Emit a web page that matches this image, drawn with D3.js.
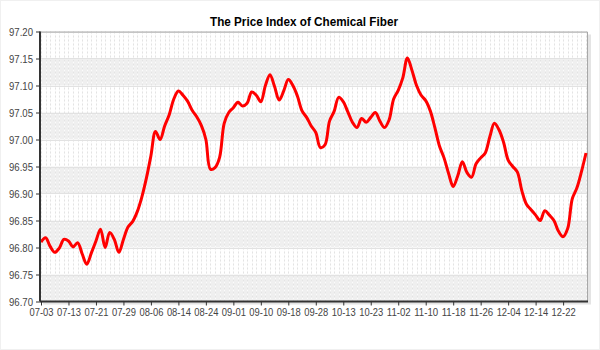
<!DOCTYPE html>
<html>
<head>
<meta charset="utf-8">
<script src="https://cdn.jsdelivr.net/npm/d3@7"></script>
<style>
  body { margin: 0; background: #fff; }
  svg { display: block; font-family: "Liberation Sans", Arial, sans-serif; }
</style>
</head>
<body>
<div id="chart"></div>
<script>
// ---- DATA ----
let chartTitle = "The Price Index of Chemical Fiber";

let tickLabels = ["07-03", "07-13", "07-21", "07-29", "08-06", "08-14", "08-24", "09-01", "09-10", "09-18",
                  "09-28", "10-13", "10-23", "11-02", "11-10", "11-18", "11-26", "12-04", "12-14", "12-22"];

let yTicks = [96.70, 96.75, 96.80, 96.85, 96.90, 96.95, 97.00, 97.05, 97.10, 97.15, 97.20];

let priceIndex = [
    96.810, 96.818, 96.802, 96.791, 96.799, 96.815, 96.812, 96.801, 96.809, 96.788,
    96.769, 96.790, 96.812, 96.834, 96.800, 96.828, 96.815, 96.791, 96.815, 96.838,
    96.848, 96.866, 96.893, 96.928, 96.970, 97.015, 97.000, 97.025, 97.046, 97.075,
    97.090, 97.082, 97.071, 97.054, 97.042, 97.026, 97.000, 96.945, 96.948, 96.967,
    97.030, 97.050, 97.059, 97.069, 97.062, 97.067, 97.088, 97.082, 97.070, 97.100,
    97.120, 97.098, 97.073, 97.090, 97.111, 97.100, 97.080, 97.053, 97.041, 97.025,
    97.013, 96.985, 96.990, 97.034, 97.052, 97.078, 97.070, 97.051, 97.032, 97.022,
    97.039, 97.032, 97.041, 97.050, 97.034, 97.022, 97.036, 97.075, 97.091, 97.114,
    97.151, 97.128, 97.100, 97.082, 97.072, 97.053, 97.022, 96.988, 96.966, 96.937,
    96.913, 96.933, 96.959, 96.939, 96.930, 96.955, 96.966, 96.975, 97.005, 97.030,
    97.018, 96.995, 96.962, 96.950, 96.940, 96.905, 96.880, 96.870, 96.860, 96.850,
    96.868, 96.860, 96.850, 96.830, 96.820, 96.835, 96.890, 96.910, 96.940, 96.975
];

let tickEvery = 6;

// ---- CHART AREA ----
let W = 600, H = 350;
let plot = {left: 40, right: 588, top: 31.5, bottom: 301.5};

let svg = d3.select("#chart").append("svg")
    .attr("width", W)
    .attr("height", H);

// outer border
svg.append("rect")
    .attr("x", 0.5).attr("y", 0.5)
    .attr("width", W - 1).attr("height", H - 1)
    .attr("fill", "#fff")
    .attr("stroke", "#f0f0f0");

// ---- SCALES ----
let x = d3.scaleLinear()
    .domain([0, priceIndex.length - 1])
    .range([41, 586]);

let y = d3.scaleLinear()
    .domain([96.70, 97.20])
    .range([plot.bottom, plot.top]);

// shadow of plot frame
svg.append("rect")
    .attr("x", plot.left + 3).attr("y", plot.top + 3)
    .attr("width", plot.right - plot.left).attr("height", plot.bottom - plot.top)
    .attr("fill", "#e4e4e4");

svg.append("rect")
    .attr("x", plot.left).attr("y", plot.top)
    .attr("width", plot.right - plot.left).attr("height", plot.bottom - plot.top)
    .attr("fill", "#fff");

// alternating bands
let bands = yTicks.slice(0, -1).filter((d, i) => i % 2 === 0);
svg.append("g").selectAll("rect")
    .data(bands)
    .enter().append("rect")
    .attr("x", plot.left)
    .attr("y", d => y(d + 0.05))
    .attr("width", plot.right - plot.left)
    .attr("height", d => y(d) - y(d + 0.05))
    .attr("fill", "#efefef");

// vertical dashed grid
let vGrid = svg.append("g");
vGrid.selectAll(".vw")
    .data(priceIndex)
    .enter().append("line")
    .attr("class", "vw")
    .attr("x1", (d, i) => Math.round(x(i)) + 0.5)
    .attr("x2", (d, i) => Math.round(x(i)) + 0.5)
    .attr("y1", plot.top).attr("y2", plot.bottom)
    .attr("stroke", "#fcfcfc");
vGrid.selectAll(".vd")
    .data(priceIndex)
    .enter().append("line")
    .attr("class", "vd")
    .attr("x1", (d, i) => Math.round(x(i)) + 0.5)
    .attr("x2", (d, i) => Math.round(x(i)) + 0.5)
    .attr("y1", plot.top).attr("y2", plot.bottom)
    .attr("stroke", "#e3e3e3")
    .attr("stroke-dasharray", "2,2");

// horizontal grid lines
svg.append("g").selectAll("line")
    .data(yTicks)
    .enter().append("line")
    .attr("x1", plot.left).attr("x2", plot.right)
    .attr("y1", d => Math.round(y(d)) + 0.5)
    .attr("y2", d => Math.round(y(d)) + 0.5)
    .attr("stroke", "#e2e2e2");

// frame top/right
svg.append("path")
    .attr("d", `M${plot.left},${plot.top + 0.5}H${plot.right - 0.5}V${plot.bottom}`)
    .attr("fill", "none")
    .attr("stroke", "#a8a8a8");

// ---- LINE ----
let line = d3.line()
    .x((d, i) => x(i))
    .y(d => y(d))
    .curve(d3.curveCatmullRom.alpha(0.5));

svg.append("path")
    .datum(priceIndex)
    .attr("d", line)
    .attr("fill", "none")
    .attr("stroke", "#ff0000")
    .attr("stroke-width", 3)
    .attr("stroke-linejoin", "round");

// ---- AXES ----
let xAxis = d3.axisBottom(x)
    .tickValues(d3.range(0, priceIndex.length, tickEvery))
    .tickFormat((d, i) => tickLabels[i])
    .tickSize(4)
    .tickPadding(3);

let yAxis = d3.axisLeft(y)
    .tickValues(yTicks)
    .tickFormat(d3.format(".2f"))
    .tickSize(4)
    .tickPadding(3);

let xAxisGroup = svg.append("g")
    .attr("class", "x-axis axis")
    .attr("transform", "translate(0," + plot.bottom + ")")
    .call(xAxis);

let yAxisGroup = svg.append("g")
    .attr("class", "y-axis axis")
    .attr("transform", "translate(" + plot.left + ",0)")
    .call(yAxis);

[xAxisGroup, yAxisGroup].forEach(g => {
    g.select(".domain").attr("stroke", "#333").attr("stroke-width", 2);
    g.selectAll(".tick line").attr("stroke", "#333");
    g.selectAll(".tick text")
        .attr("fill", "#444")
        .attr("textLength", 24)
        .attr("lengthAdjust", "spacingAndGlyphs")
        .style("font-size", "11px")
        .style("font-family", "'Liberation Sans', Arial, sans-serif");
});
xAxisGroup.select(".domain").attr("d", `M${plot.left},0H${plot.right}`);
yAxisGroup.select(".domain").attr("d", `M0,${plot.top}V${plot.bottom}`);

// ---- TITLE ----
svg.append("text")
    .attr("x", 304)
    .attr("y", 26)
    .attr("text-anchor", "middle")
    .attr("textLength", 188)
    .attr("lengthAdjust", "spacingAndGlyphs")
    .style("font-size", "12.5px")
    .style("font-weight", "bold")
    .attr("fill", "#000")
    .text(chartTitle);
</script>
</body>
</html>
